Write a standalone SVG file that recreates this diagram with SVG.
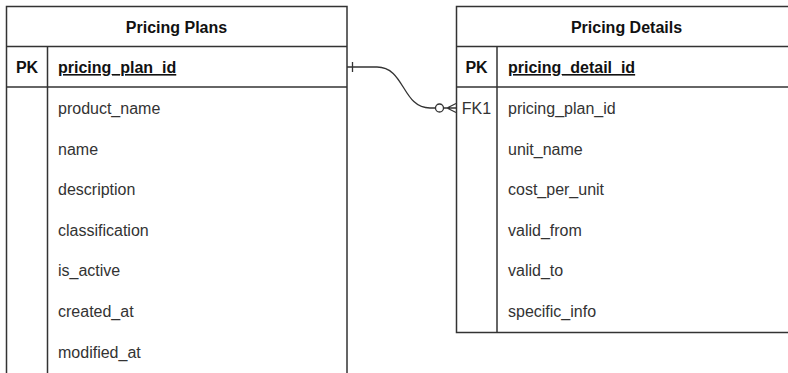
<svg xmlns="http://www.w3.org/2000/svg" width="788" height="373" viewBox="0 0 788 373">
<style>
.box{fill:#fff;stroke:#333;stroke-width:1.5}
.ln{stroke:#333;stroke-width:1.5;fill:none}
.t{font-family:"Liberation Sans",Arial,sans-serif;font-size:16px;fill:#333}
.b{font-weight:bold;fill:#111}
.c{text-anchor:middle}
.u{text-decoration:underline}
.edge{stroke:#333;stroke-width:1.3;fill:none}
</style>
<rect width="788" height="373" fill="#fff"/>
<g id="pricing-plans">
<rect class="box" x="6.5" y="6.5" width="340.5" height="368"/>
<line class="ln" x1="6.5" y1="46.5" x2="347" y2="46.5"/>
<line class="ln" x1="6.5" y1="87" x2="347" y2="87"/>
<line class="ln" x1="47.5" y1="46.5" x2="47.5" y2="374"/>
<text class="t b c" x="176.5" y="33">Pricing Plans</text>
<text class="t b c" x="27" y="73">PK</text>
<text class="t b u" x="58" y="73">pricing_plan_id</text>
<text class="t" x="58" y="114">product_name</text>
<text class="t" x="58" y="155">name</text>
<text class="t" x="58" y="195">description</text>
<text class="t" x="58" y="236">classification</text>
<text class="t" x="58" y="276">is_active</text>
<text class="t" x="58" y="317">created_at</text>
<text class="t" x="58" y="358">modified_at</text>
</g>
<g id="pricing-details">
<rect class="box" x="456.5" y="6.5" width="340.5" height="326"/>
<line class="ln" x1="456.5" y1="46.5" x2="797" y2="46.5"/>
<line class="ln" x1="456.5" y1="87" x2="797" y2="87"/>
<line class="ln" x1="497" y1="46.5" x2="497" y2="332.5"/>
<text class="t b c" x="626.5" y="33">Pricing Details</text>
<text class="t b c" x="476.5" y="73">PK</text>
<text class="t b u" x="508" y="73">pricing_detail_id</text>
<text class="t c" x="476.5" y="114">FK1</text>
<text class="t" x="508" y="114">pricing_plan_id</text>
<text class="t" x="508" y="155">unit_name</text>
<text class="t" x="508" y="195">cost_per_unit</text>
<text class="t" x="508" y="236">valid_from</text>
<text class="t" x="508" y="276">valid_to</text>
<text class="t" x="508" y="317">specific_info</text>
</g>
<g id="connectors">
<path class="edge" d="M347,67 L377,67 C405,67 402,108 430,108 L435.5,108"/>
<line class="edge" x1="352.5" y1="62" x2="352.5" y2="72"/>
<circle class="edge" cx="439.5" cy="108" r="4" fill="#fff"/>
<path class="edge" d="M443.5,108 L456,108 M447,108 L456,103.5 M447,108 L456,112.5"/>
</g>
</svg>
